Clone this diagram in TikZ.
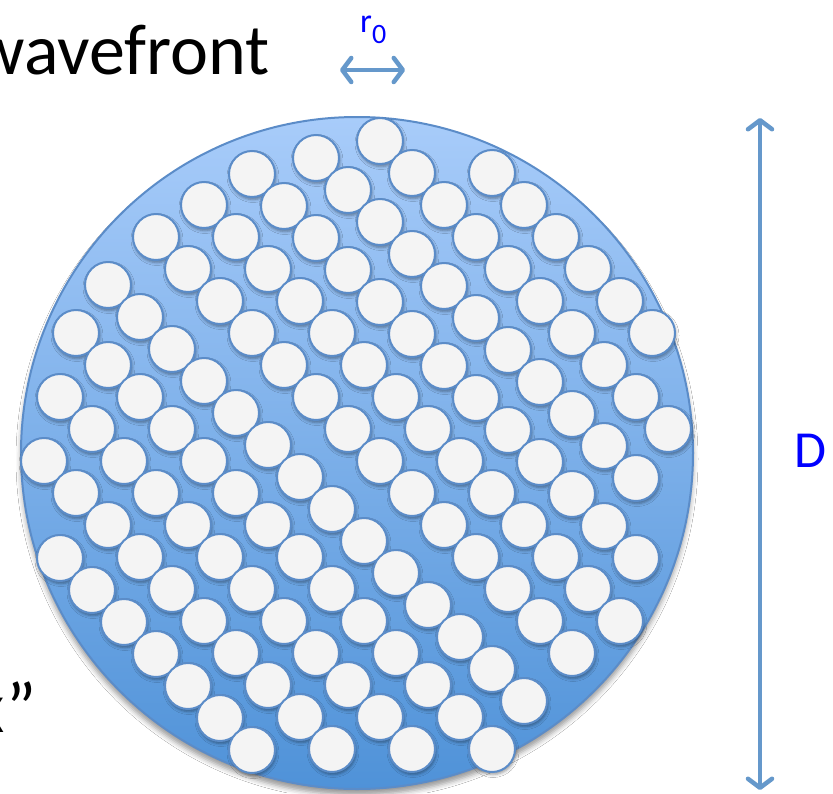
\documentclass[tikz,border=0pt]{standalone}
\usepackage{fontspec}
\setmainfont{Carlito}
\usetikzlibrary{arrows.meta,shadows.blur}
\definecolor{skytop}{HTML}{A8CCFA}
\definecolor{skybottom}{HTML}{4F92D8}
\definecolor{rim}{HTML}{5B8CC8}
\definecolor{pearl}{HTML}{F4F4F4}
\definecolor{steel}{HTML}{6598CB}
\definecolor{labelblue}{HTML}{0000FF}
\tikzset{
  disk/.style={draw=rim,line width=2pt,top color=skytop,bottom color=skybottom,blur shadow={shadow xshift=0pt,shadow yshift=-6pt,shadow blur radius=5pt,shadow opacity=40}},
  cell/.style={draw=rim,line width=2pt,fill=pearl,blur shadow={shadow xshift=1pt,shadow yshift=-2.5pt,shadow blur radius=3pt,shadow opacity=40}},
  dimarrow/.style={{Straight Barb[round,length=9pt,width=24pt]}-{Straight Barb[round,length=9pt,width=24pt]},line width=4.5pt,steel,line cap=round},
  bigword/.style={font=\fontsize{72}{84}\selectfont,text=black,inner sep=0pt},
  symbol/.style={text=labelblue,inner sep=0pt}
}

\begin{document}
\begin{tikzpicture}[x=1pt,y=-1pt]
  \useasboundingbox (0,0) rectangle (833,793);
  \clip (0,0) rectangle (833,793);
  \fill[white] (0,0) rectangle (833,793);

  \node[bigword,anchor=base east] (wavefront) at (270,74) {wavefront};
  \node[bigword,anchor=base east] (quote) at (37,732) {x”};

  \draw[disk] (357,453) circle[radius=336];
  % diagonal chains of cells: offset / first x / last index
  \foreach \c/\xa/\n in {-319/492/5,-239/380/9,-158/316/10,-78/252/12,1/204/13,81/156/13,177/108/13,257/76/13,337/60/11,417/44/9,498/60/6} {
    \foreach \k in {0,...,\n} {
      \pgfmathsetmacro\cx{\xa+32*\k}
      \pgfmathsetmacro\cy{\cx+\c}
      \draw[cell] (\cx,\cy) circle[radius=23];
    }
  }

  \coordinate (r0left) at (340,70);
  \coordinate (r0right) at (405,70);
  \draw[dimarrow] (r0left) -- (r0right);
  \node[symbol,anchor=base west,font=\fontsize{34}{40}\selectfont] (r0) at (360,32) {r\raisebox{-11pt}{\fontsize{28}{30}\selectfont 0}};

  \coordinate (Dtop) at (760,118);
  \coordinate (Dbottom) at (760,790);
  \draw[dimarrow] (Dtop) -- (Dbottom);
  \node[symbol,font=\fontsize{52}{60}\selectfont] (D) at (810,451) {D};
\end{tikzpicture}
\end{document}
